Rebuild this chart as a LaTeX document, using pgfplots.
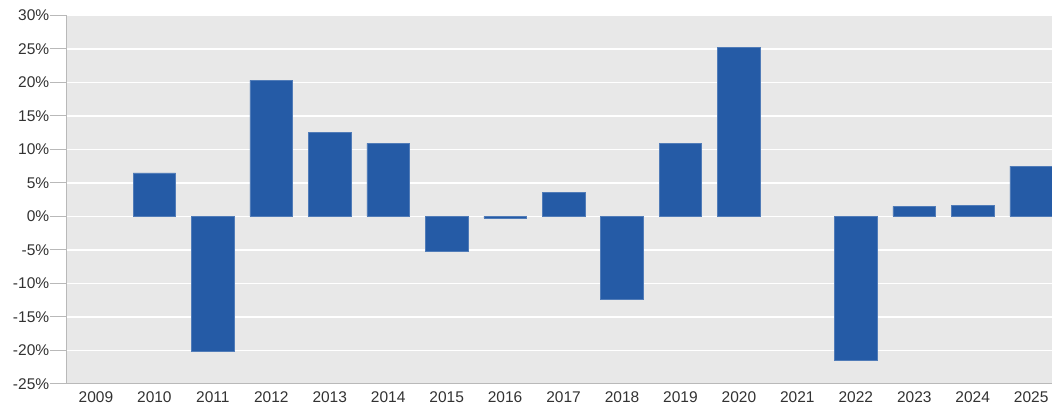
\documentclass[border=0pt]{standalone}
\usepackage{pgfplots}
\pgfplotsset{compat=1.18}
\usepackage{fontspec}
\setmainfont{Liberation Sans}
\definecolor{barblue}{RGB}{37,91,166}
\definecolor{bgray}{RGB}{232,232,232}
\definecolor{axgray}{RGB}{185,185,185}
\definecolor{txt}{RGB}{50,50,50}
\begin{document}
\begin{tikzpicture}
\useasboundingbox (0,0) rectangle (1052pt,406pt);
\begin{axis}[
  at={(66.7pt,22pt)}, anchor=south west,
  scale only axis, width=993.7pt, height=368.6pt,
  xmin=-0.5, xmax=16.5, ymin=-25, ymax=30,
  axis x line=bottom, axis y line=left,
  axis line style={-, draw=axgray, line width=1pt},
  axis background/.style={fill=bgray},
  ymajorgrids, grid style={white, line width=1.3pt},
  ytick={-25,-20,...,30},
  yticklabels={-25\%,-20\%,-15\%,-10\%,-5\%,0\%,5\%,10\%,15\%,20\%,25\%,30\%},
  xtick={0,...,16},
  xticklabels={2009,2010,2011,2012,2013,2014,2015,2016,2017,2018,2019,2020,2021,2022,2023,2024,2025},
  tick align=outside,
  ytick style={draw=axgray, line width=1pt},
  major tick length=17pt,
  xtick style={draw=none},
  x tick label style={yshift=13pt},
  y tick label style={xshift=3pt},
  tick label style={font=\fontsize{15.5}{17}\selectfont, text=txt},
  ybar, bar width=42.6pt, bar shift=0pt,
  clip=false,
]
\addplot[fill=barblue, draw=barblue!80!white, line width=0.6pt] coordinates {
 (1,6.5) (2,-20.1) (3,20.3) (4,12.5) (5,10.9) (6,-5.2) (7,-0.25) (8,3.6)
 (9,-12.3) (10,10.9) (11,25.2) (13,-21.5) (14,1.5) (15,1.7) (16,7.5)
};
\end{axis}
\end{tikzpicture}
\end{document}
